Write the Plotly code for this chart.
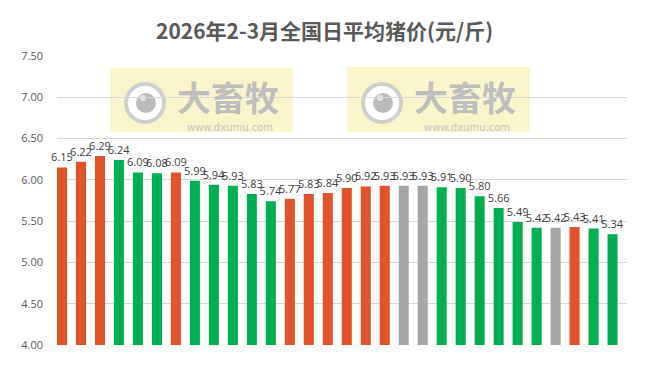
import plotly.graph_objects as go

values = [6.15, 6.22, 6.29, 6.24, 6.09, 6.08, 6.09, 5.99, 5.94, 5.93,
          5.83, 5.74, 5.77, 5.83, 5.84, 5.90, 5.92, 5.93, 5.93, 5.93,
          5.91, 5.90, 5.80, 5.66, 5.49, 5.42, 5.42, 5.43, 5.41, 5.34]
# trend: u = up (orange), d = down (green), f = flat (gray)
trend = ["u", "u", "u", "d", "d", "d", "u", "d", "d", "d",
         "d", "d", "u", "u", "u", "u", "u", "u", "f", "f",
         "d", "d", "d", "d", "d", "d", "f", "u", "d", "d"]
positions = list(range(len(values)))
tick_vals = [4.0, 4.5, 5.0, 5.5, 6.0, 6.5, 7.0, 7.5]

cmap = {"u": "#E0532B", "d": "#00B050", "f": "#A5A5A5"}
colors = [cmap[t] for t in trend]

fig = go.Figure(go.Bar(
    x=positions, y=values, marker_color=colors, marker_line_width=0,
    width=0.53,
    text=[f"{v:.2f}" for v in values], textposition="outside",
    constraintext="none", cliponaxis=False,
    textfont=dict(size=11, color="#404040", family="Open Sans, DejaVu Sans"),
))

OFF = 8  # page body margin
W, H = 651 - OFF, 365 - OFF
# plot area in page pixels: x 57..627, y 56..345
L, R, T, B = 57 - OFF, W - (627 - OFF), 56 - OFF, H - (345 - OFF)
pw, ph = W - L - R, H - T - B

def xp(px):
    return (px - OFF - L) / pw

def yp(py):
    return (H - B - (py - OFF)) / ph

shapes = []
annotations = []
for (x0, x1, y0, y1) in [(110, 293, 68, 132), (347, 530, 67, 132)]:
    shapes.append(dict(type="rect", xref="paper", yref="paper",
                       x0=xp(x0), x1=xp(x1), y0=yp(y1), y1=yp(y0),
                       fillcolor="rgba(248,242,185,0.75)", line_width=0, layer="below"))
    cx, cy = x0 + 35, 103
    shapes.append(dict(type="circle", xref="paper", yref="paper",
                       x0=xp(cx - 19), x1=xp(cx + 19), y0=yp(cy + 19), y1=yp(cy - 19),
                       fillcolor="white", line=dict(color="#CFCFCF", width=4), layer="below"))
    shapes.append(dict(type="circle", xref="paper", yref="paper",
                       x0=xp(cx - 9), x1=xp(cx + 11), y0=yp(cy + 10), y1=yp(cy - 10),
                       fillcolor="#BBBBBB", line_width=0, layer="below"))
    shapes.append(dict(type="circle", xref="paper", yref="paper",
                       x0=xp(cx - 5), x1=xp(cx + 1), y0=yp(cy - 2), y1=yp(cy - 8),
                       fillcolor="#E6E6E6", line_width=0, layer="below"))
    annotations.append(dict(text="<b>大畜牧</b>", xref="paper", yref="paper",
                            x=xp(x0 + 118), y=yp(97), showarrow=False,
                            font=dict(size=34, color="#BEBEBE", family="Noto Sans CJK SC"),
                            xanchor="center", yanchor="middle"))
    annotations.append(dict(text="www.dxumu.com", xref="paper", yref="paper",
                            x=xp(x0 + 120), y=yp(127), showarrow=False,
                            font=dict(size=10, color="#C4C4C4", family="DejaVu Sans"),
                            xanchor="center", yanchor="middle"))

annotations.append(dict(text="<b>2026年2-3月全国日平均猪价(元/斤)</b>", xref="paper", yref="paper",
                        x=xp(324), y=yp(30), showarrow=False, xanchor="center", yanchor="middle",
                        font=dict(size=21, color="#595959", family="Noto Sans CJK SC")))

fig.update_layout(
    width=W, height=H,
    margin=dict(l=L, r=R, t=T, b=B),
    paper_bgcolor="white", plot_bgcolor="white",
    showlegend=False,
    shapes=shapes, annotations=annotations,
    xaxis=dict(range=[-0.263, 29.76], showticklabels=False, showgrid=False,
               zeroline=False, showline=False),
    yaxis=dict(range=[4.0, 7.5], tickvals=tick_vals, tickformat=".2f",
               showgrid=True, gridcolor="#D9D9D9", gridwidth=1, zeroline=False,
               showline=False, ticks="", ticklabelstandoff=13,
               tickfont=dict(size=11, color="#595959", family="Open Sans, DejaVu Sans")),
)

fig.write_html("out.html")
